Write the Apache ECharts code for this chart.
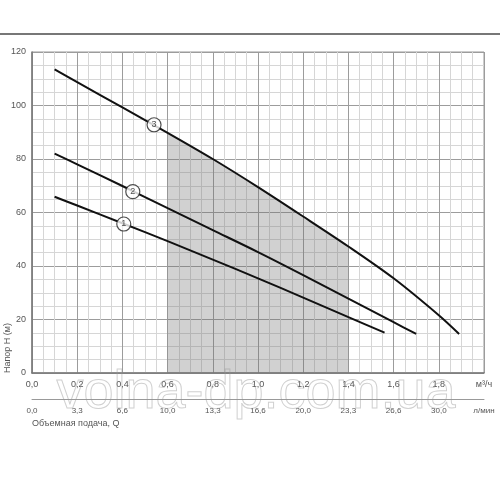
<!DOCTYPE html>
<html>
<head>
<meta charset="utf-8">
<script src="https://cdn.jsdelivr.net/npm/echarts@6/dist/echarts.min.js"></script>
<style>
  html, body { margin: 0; padding: 0; background: #fff; }
  #chart { width: 500px; height: 500px; }
</style>
</head>
<body>
<div id="chart"></div>
<script>
// подача, м3/ч и напор, м для трёх насосов
const flow1 = [0.1, 0.2, 0.4, 0.6, 0.8, 1.0, 1.2, 1.4, 1.56];
const head1 = [65.9, 62.6, 56, 49.3, 42.4, 35.4, 28.2, 20.9, 15.1];
const flow2 = [0.1, 0.2, 0.4, 0.6, 0.8, 1.0, 1.2, 1.4, 1.6, 1.7];
const head2 = [82, 78, 69.9, 61.6, 53.4, 45.2, 36.6, 27.8, 19, 14.6];
const flow3 = [0.1, 0.2, 0.4, 0.6, 0.8, 1.0, 1.2, 1.4, 1.6, 1.8, 1.89];
const head3 = [113.5, 108.7, 99.3, 89.8, 80, 69.5, 58.5, 47.3, 35.4, 21.6, 14.6];

// рабочая зона
const zoneFrom = 0.6;
const zoneTo = 1.4;

// номера кривых и места подписей
const curveNames = ['1', '2', '3'];
const tagFlow = [0.406, 0.446, 0.54];
const tagHead = [55.7, 67.8, 92.8];

// подписи осей
const m3hLabels = ['0,0', '0,2', '0,4', '0,6', '0,8', '1,0', '1,2', '1,4', '1,6', '1,8'];
const lpmLabels = ['0,0', '3,3', '6,6', '10,0', '13,3', '16,6', '20,0', '23,3', '26,6', '30,0'];
const m3hUnit = 'м³/ч';
const lpmUnit = 'л/мин';

const pairs = (xs, ys) => xs.map((x, i) => [x, ys[i]]);
const zoneData = pairs(flow3, head3).filter(p => p[0] >= zoneFrom && p[0] <= zoneTo);

const font = 'Liberation Sans, Arial, sans-serif';
const chart = echarts.init(document.getElementById('chart'));

const lineSeries = (data) => ({
  type: 'line',
  data: data,
  smooth: 0.3,
  symbol: 'none',
  lineStyle: { color: '#111', width: 2 },
  z: 5
});

const option = {
  animation: false,
  grid: { left: 32, top: 52, right: 16, bottom: 127, show: true, borderColor: '#999', borderWidth: 1 },
  xAxis: [
    {
      type: 'value', min: 0, max: 2, interval: 0.2,
      axisLine: { show: true, lineStyle: { color: '#777', width: 1.5 } },
      axisTick: { show: false },
      axisLabel: {
        show: true, margin: 7, fontSize: 9, color: '#555', fontFamily: font,
        formatter: v => { const i = Math.round(v / 0.2); return i < m3hLabels.length ? m3hLabels[i] : m3hUnit; },
        rich: {}
      },
      splitLine: { show: true, lineStyle: { color: '#9c9c9c', width: 1 } },
      minorTick: { show: false, splitNumber: 4 },
      minorSplitLine: { show: true, lineStyle: { color: '#d6d6d6', width: 1 } }
    },
    {
      type: 'value', min: 0, max: 2, interval: 0.2, position: 'bottom', offset: 26,
      axisLine: { show: true, onZero: false, lineStyle: { color: '#999', width: 1 } },
      axisTick: { show: false },
      axisLabel: {
        show: true, margin: 8, fontSize: 8, color: '#555', fontFamily: font,
        formatter: v => { const i = Math.round(v / 0.2); return i < lpmLabels.length ? lpmLabels[i] : lpmUnit; }
      },
      splitLine: { show: false }
    }
  ],
  yAxis: {
    type: 'value', min: 0, max: 120, interval: 20,
    axisLine: { show: true, lineStyle: { color: '#777', width: 1.5 } },
    axisTick: { show: false },
    axisLabel: { margin: 6, fontSize: 9, color: '#555', fontFamily: font },
    splitLine: { show: true, lineStyle: { color: '#9c9c9c', width: 1 } },
    minorTick: { show: false, splitNumber: 4 },
    minorSplitLine: { show: true, lineStyle: { color: '#d6d6d6', width: 1 } }
  },
  graphic: [
    { type: 'line', shape: { x1: 0, y1: 34, x2: 500, y2: 34 }, style: { stroke: '#777', lineWidth: 2 } },
    {
      type: 'text', x: 8, y: 348, rotation: Math.PI / 2,
      style: { text: 'Напор H (м)', fill: '#555', font: '9px ' + font, textAlign: 'center', textVerticalAlign: 'middle' }
    },
    {
      type: 'text', x: 32, y: 424,
      style: { text: 'Объемная подача, Q', fill: '#555', font: '9px ' + font, textAlign: 'left', textVerticalAlign: 'middle' }
    },
    {
      type: 'text', x: 256, y: 393, z: 100,
      style: { text: 'volna-dp.com.ua', font: '54px ' + font, fill: 'rgba(255,255,255,0)', stroke: 'rgba(150,150,150,0.45)', lineWidth: 1, textAlign: 'center', textVerticalAlign: 'middle' }
    }
  ],
  series: [
    {
      type: 'line',
      data: zoneData,
      smooth: 0.3,
      symbol: 'none',
      lineStyle: { width: 0 },
      areaStyle: { color: 'rgba(110,110,110,0.45)', origin: 'start' },
      z: 2
    },
    lineSeries(pairs(flow1, head1)),
    lineSeries(pairs(flow2, head2)),
    lineSeries(pairs(flow3, head3)),
    {
      type: 'scatter',
      data: tagFlow.map((x, i) => ({ value: [x, tagHead[i]], name: curveNames[i] })),
      symbol: 'circle',
      symbolSize: 14,
      itemStyle: { color: '#fff', borderColor: '#222', borderWidth: 1.2 },
      label: { show: true, position: 'inside', formatter: p => p.name, fontSize: 9, color: '#222', fontFamily: font },
      z: 10
    }
  ]
};

chart.setOption(option);
</script>
</body>
</html>
